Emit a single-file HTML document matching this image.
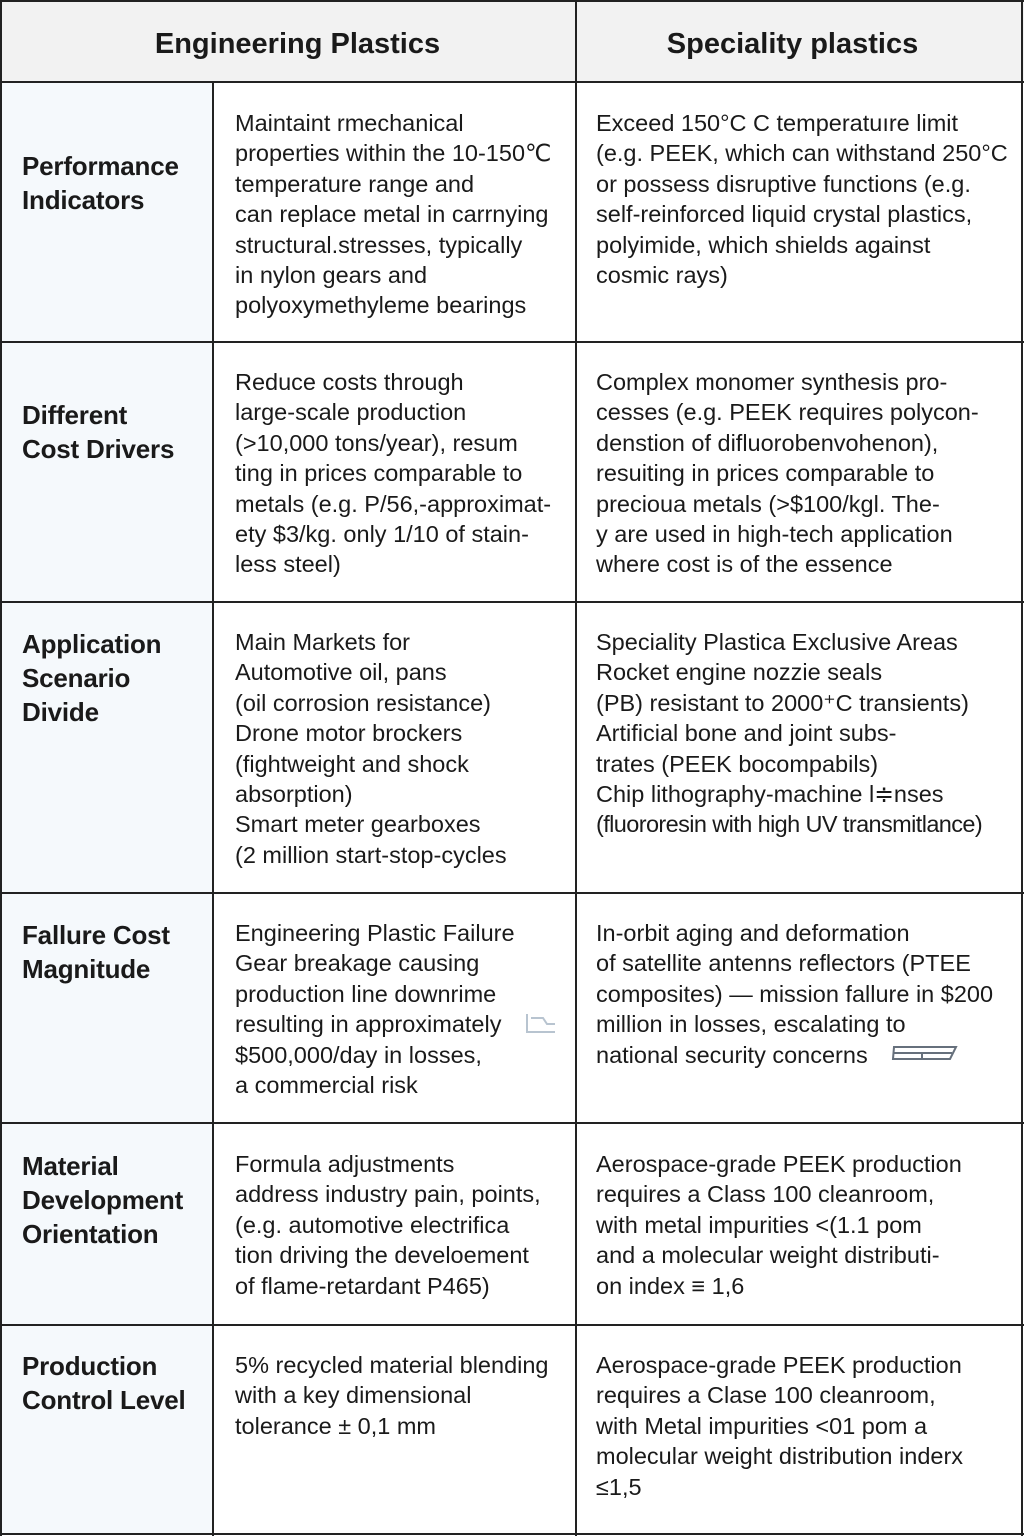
<!DOCTYPE html>
<html><head><meta charset="utf-8"><style>
*{margin:0;padding:0;box-sizing:border-box}
body{width:1024px;height:1536px;background:#fff;position:relative;overflow:hidden;font-family:"Liberation Sans",Arial,sans-serif;color:#1a1a1a}
.a{position:absolute}
.h{position:absolute;background:#222}
.lab{position:absolute;left:22px;font-weight:bold;font-size:26px;line-height:34px;white-space:nowrap;letter-spacing:-0.2px}
.t{position:absolute;font-size:23.5px;line-height:30.4px;white-space:nowrap;letter-spacing:0px}
.c1{left:235px}.c2{left:596px}
.hd{position:absolute;top:26px;font-weight:bold;font-size:29px;line-height:36px;text-align:center}
</style></head><body>
<div class="a" style="left:0;top:0;width:1024px;height:82px;background:#f2f2f2"></div>
<div class="a" style="left:0;top:82px;width:212px;height:1452px;background:#f5f9fc"></div>
<div class="h" style="left:0;top:0;width:1024px;height:2px"></div>
<div class="h" style="left:0;top:1533px;width:1024px;height:2px"></div>
<div class="h" style="left:0;top:0;width:2px;height:1536px"></div>
<div class="h" style="left:1021px;top:0;width:2px;height:1536px"></div>
<div class="h" style="left:575px;top:0;width:1.5px;height:1536px"></div>
<div class="h" style="left:212px;top:82px;width:1.5px;height:1454px"></div>
<div class="h" style="left:0;top:81px;width:1024px;height:2px"></div>
<div class="h" style="left:0;top:341px;width:1024px;height:1.5px"></div>
<div class="h" style="left:0;top:601px;width:1024px;height:1.5px"></div>
<div class="h" style="left:0;top:892px;width:1024px;height:1.5px"></div>
<div class="h" style="left:0;top:1122px;width:1024px;height:1.5px"></div>
<div class="h" style="left:0;top:1324px;width:1024px;height:1.5px"></div>

<div class="hd" style="left:0;width:595px">Engineering Plastics</div>
<div class="hd" style="left:575px;width:435px">Speciality plastics</div>

<div class="lab" style="top:149px">Performance<br>Indicators</div>
<div class="lab" style="top:398px">Different<br>Cost Drivers</div>
<div class="lab" style="top:627px">Application<br>Scenario<br>Divide</div>
<div class="lab" style="top:918px">Fallure Cost<br>Magnitude</div>
<div class="lab" style="top:1149px">Material<br>Development<br>Orientation</div>
<div class="lab" style="top:1349px">Production<br>Control Level</div>

<div class="t c1" style="top:108px">Maintaint rmechanical<br>properties within the 10-150℃<br>temperature range and<br>can replace metal in carrnying<br>structural.stresses, typically<br>in nylon gears and<br>polyoxymethyleme bearings</div>
<div class="t c2" style="top:108px">Exceed 150°C C temperatuıre limit<br>(e.g. PEEK, which can withstand 250°C<br>or possess disruptive functions (e.g.<br>self-reinforced liquid crystal plastics,<br>polyimide, which shields against<br>cosmic rays)</div>

<div class="t c1" style="top:367px">Reduce costs through<br>large-scale production<br>(&gt;10,000 tons/year), resum<br>ting in prices comparable to<br>metals (e.g. P/56,-approximat-<br>ety $3/kg. only 1/10 of stain-<br>less steel)</div>
<div class="t c2" style="top:367px">Complex monomer synthesis pro-<br>cesses (e.g. PEEK requires polycon-<br>denstion of difluorobenvohenon),<br>resuiting in prices comparable to<br>precioua metals (&gt;$100/kgl. The-<br>y are used in high-tech application<br>where cost is of the essence</div>

<div class="t c1" style="top:627px">Main Markets for<br>Automotive oil, pans<br>(oil corrosion resistance)<br>Drone motor brockers<br>(fightweight and shock<br>absorption)<br>Smart meter gearboxes<br>(2 million start-stop-cycles</div>
<div class="t c2" style="top:627px">Speciality Plastica Exclusive Areas<br>Rocket engine nozzie seals<br>(PB) resistant to 2000⁺C transients)<br>Artificial bone and joint subs-<br>trates (PEEK bocompabils)<br>Chip lithography-machine l≑nses<br><span style="letter-spacing:-0.6px">(fluororesin with high UV transmitlance)</span></div>

<div class="t c1" style="top:918px">Engineering Plastic Failure<br>Gear breakage causing<br>production line downrime<br>resulting in approximately<br>$500,000/day in losses,<br>a commercial risk</div>
<div class="t c2" style="top:918px">In-orbit aging and deformation<br>of satellite antenns reflectors (PTEE<br>composites) — mission fallure in $200<br>million in losses, escalating to<br>national security concerns</div>
<svg class="a" style="left:525px;top:1012px" width="34" height="24"><path d="M2 2 V20 H30 M6 6 H18 L22 12 H30" fill="none" stroke="#b8c4d0" stroke-width="2"/></svg>
<svg class="a" style="left:890px;top:1043px" width="70" height="20"><path d="M4 4 H66 L60 16 H3 Z M4 10 H62 M32 10 V16" fill="none" stroke="#66707c" stroke-width="2"/></svg>

<div class="t c1" style="top:1149px">Formula adjustments<br>address industry pain, points,<br>(e.g. automotive electrifica<br>tion driving the develoement<br>of flame-retardant P465)</div>
<div class="t c2" style="top:1149px">Aerospace-grade PEEK production<br>requires a Class 100 cleanroom,<br>with metal impurities &lt;(1.1 pom<br>and a molecular weight distributi-<br>on index ≡ 1,6</div>

<div class="t c1" style="top:1350px">5% recycled material blending<br>with a key dimensional<br>tolerance ± 0,1 mm</div>
<div class="t c2" style="top:1350px">Aerospace-grade PEEK production<br>requires a Clase 100 cleanroom,<br>with Metal impurities &lt;01 pom a<br>molecular weight distribution inderx<br>≤1,5</div>
</body></html>
